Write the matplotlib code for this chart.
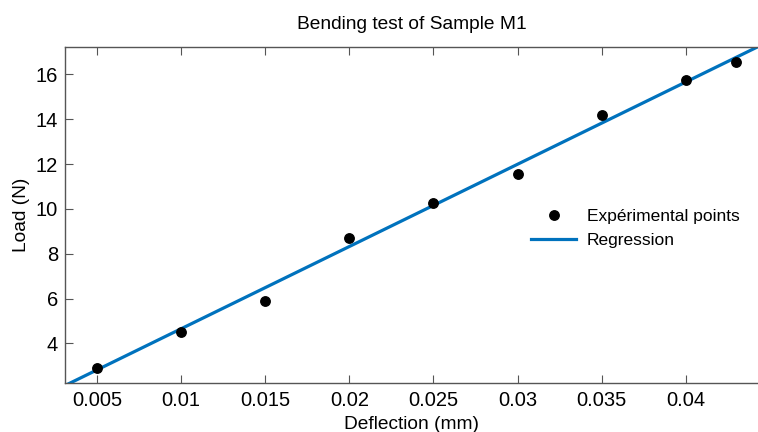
import numpy as np
import matplotlib.pyplot as plt

plt.rcParams['font.family'] = ['Liberation Sans', 'DejaVu Sans']

# measured points
deflection = [0.005, 0.01, 0.015, 0.02, 0.025, 0.03, 0.035, 0.04, 0.043]
load = [2.9, 4.5, 5.9, 8.7, 10.25, 11.55, 14.2, 15.75, 16.55]

# regression line
slope = 367.0
intercept = 0.98
x_fit = [0.0031, 0.0443]

xticks = [0.005, 0.01, 0.015, 0.02, 0.025, 0.03, 0.035, 0.04]
xticklabels = ['0.005', '0.01', '0.015', '0.02', '0.025', '0.03', '0.035', '0.04']
yticks = [4, 6, 8, 10, 12, 14, 16]

fig = plt.figure(figsize=(7.58, 4.32), dpi=100)
ax = fig.add_axes([0.0858, 0.1134, 0.9142, 0.7778])

ax.plot(deflection, load, 'o', color='black', markersize=6.8, label='Expérimental points', zorder=3)
y_fit = [slope * x + intercept for x in x_fit]
ax.plot(x_fit, y_fit, color='#0072BD', linewidth=2.3, label='Regression', zorder=2)

ax.set_xlim(0.0031, 0.04429)
ax.set_ylim(2.23, 17.22)
ax.set_xticks(xticks)
ax.set_xticklabels(xticklabels)
ax.set_yticks(yticks)

for s in ['left', 'bottom', 'top']:
    ax.spines[s].set_color('#555555')
    ax.spines[s].set_linewidth(1.0)
ax.spines['right'].set_visible(False)
ax.tick_params(direction='in', length=6, width=0.8, color='#555555', labelsize=14.5,
               top=True, right=False, pad=5)
ax.tick_params(axis='x', pad=6)

ax.set_title('Bending test of Sample M1', fontsize=13.8, pad=13)
ax.set_xlabel('Deflection (mm)', fontsize=13.8, labelpad=4)
ax.set_ylabel('Load (N)', fontsize=13.8, labelpad=4)

ax.legend(loc='upper left', bbox_to_anchor=(0.66, 0.545), frameon=False, fontsize=12.5,
          handlelength=2.6, handletextpad=0.6, labelspacing=0.55, borderpad=0)

fig.savefig('out.png', dpi=100)
